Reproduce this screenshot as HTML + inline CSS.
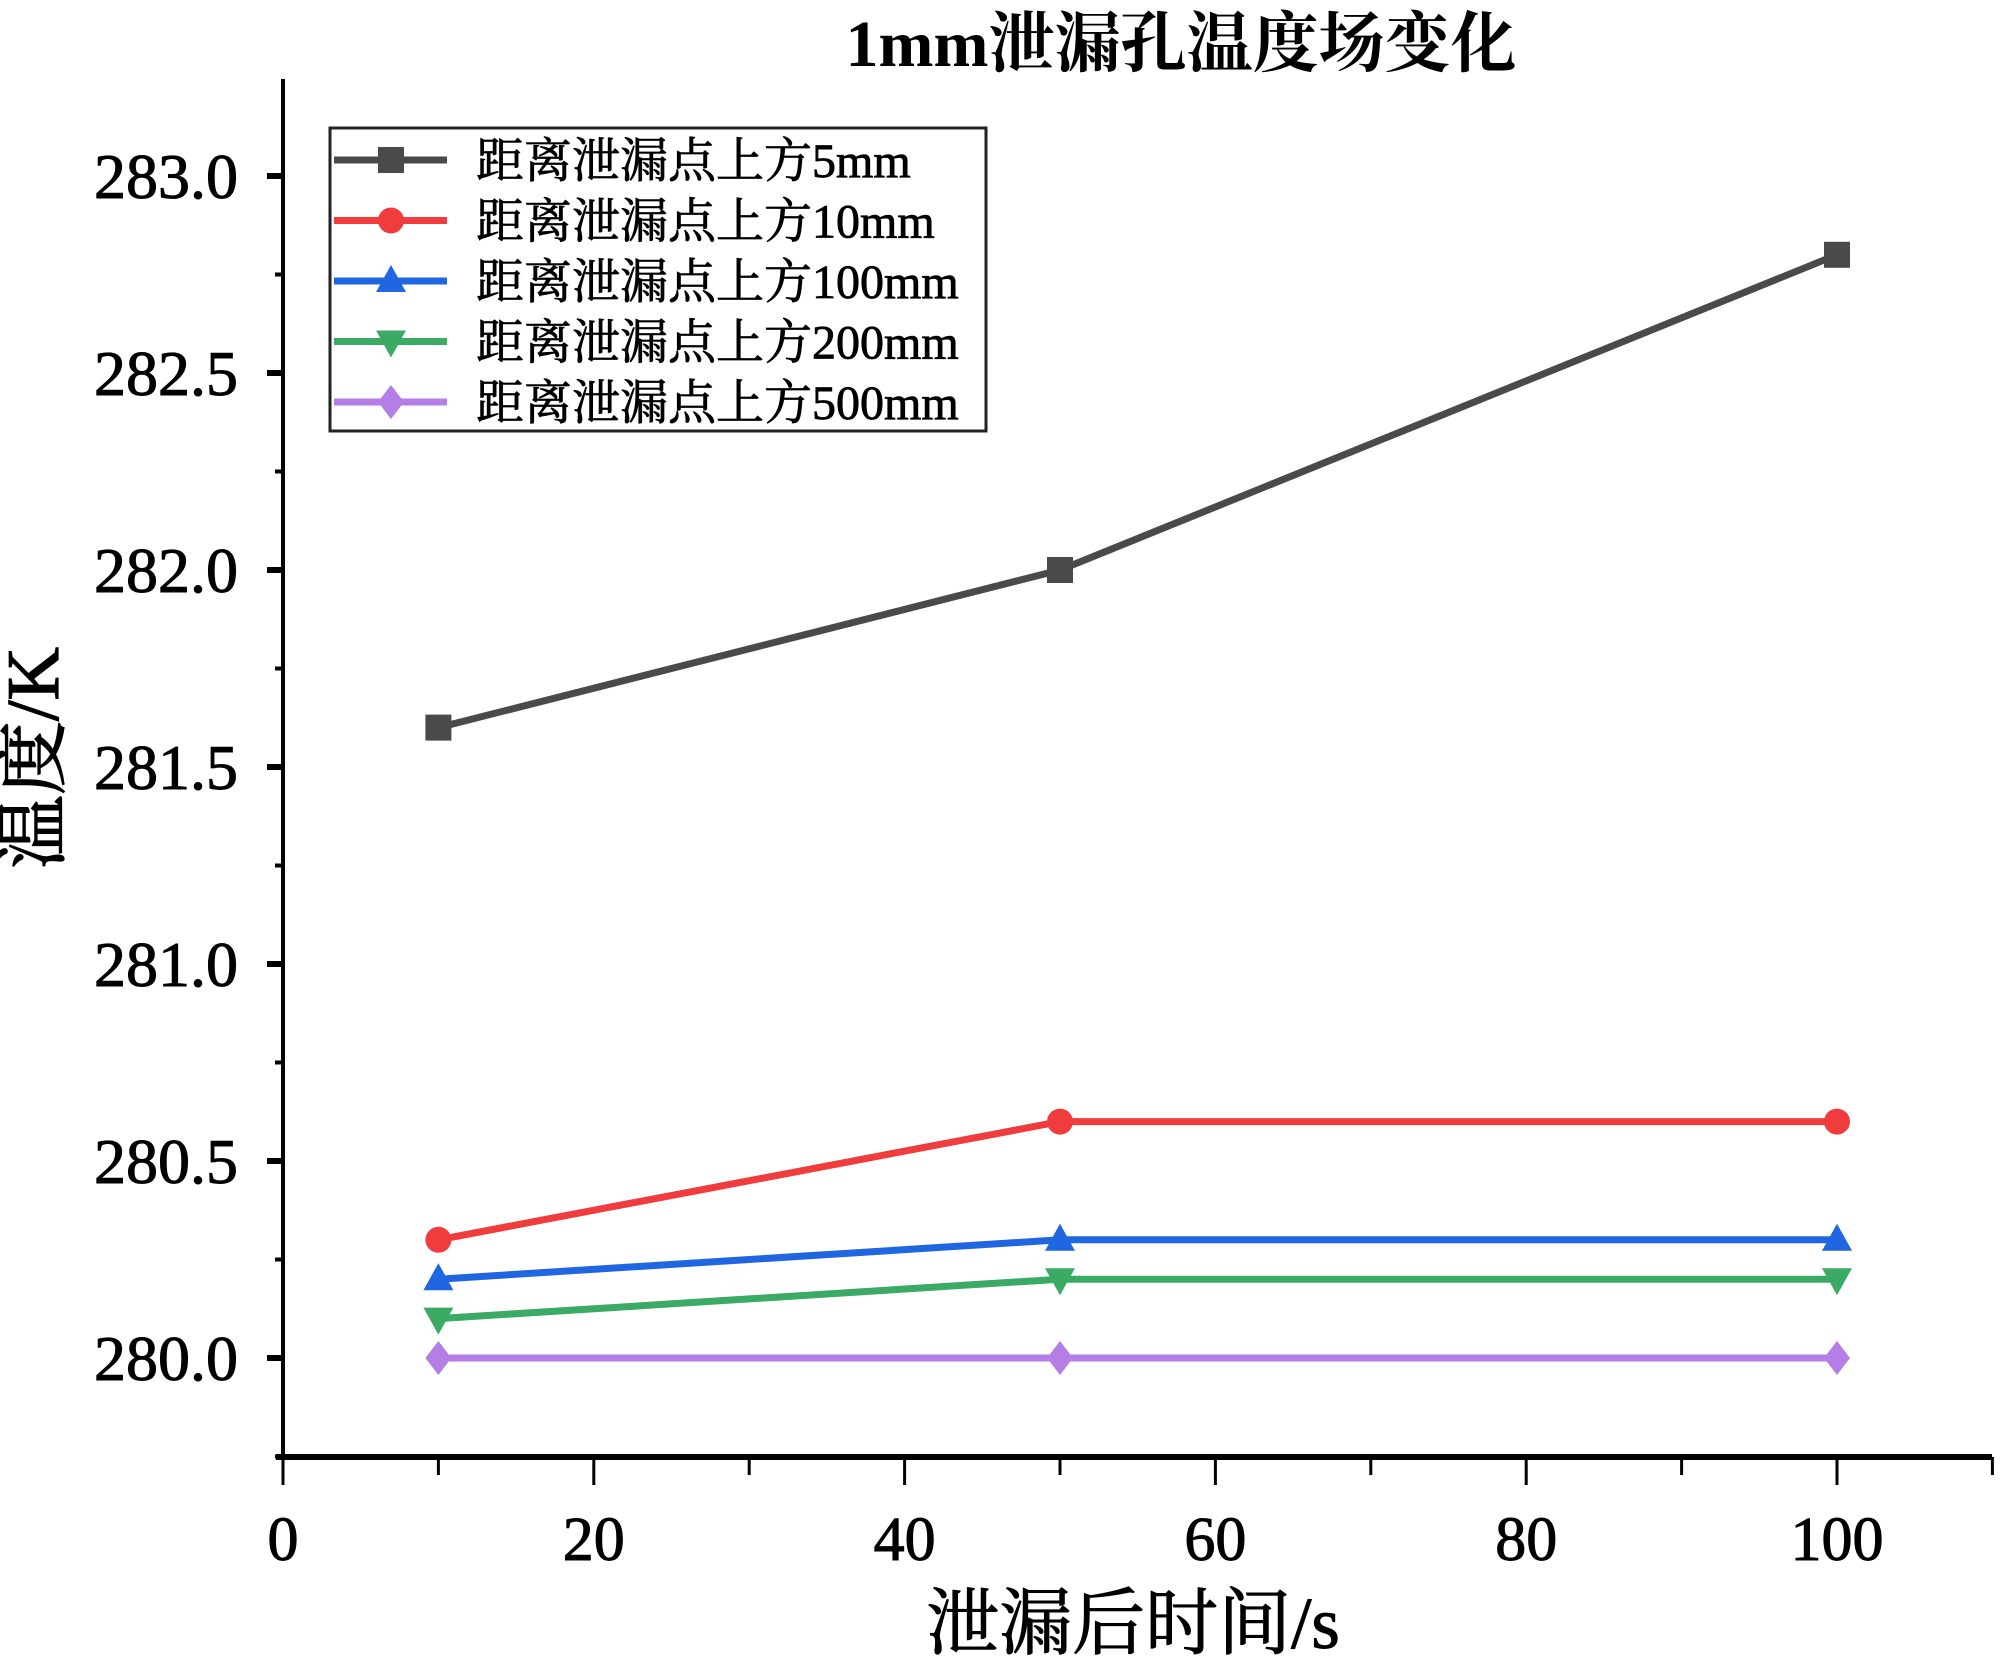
<!DOCTYPE html>
<html><head><meta charset="utf-8"><style>body{margin:0;background:#fff}svg{display:block}</style></head>
<body>
<svg id="chart" width="2000" height="1661" xmlns="http://www.w3.org/2000/svg" font-family="'Liberation Serif','Noto Serif CJK SC',serif">
<text x="1181" y="66" font-size="66" font-weight="bold" text-anchor="middle">1mm泄漏孔温度场变化</text>
<text x="1133" y="1648" font-size="73" text-anchor="middle" stroke="#000" stroke-width="1">泄漏后时间/s</text>
<text transform="translate(58,758) rotate(-90)" font-size="74" text-anchor="middle" stroke="#000" stroke-width="1.2">温度/K</text>
<g id="axes"></g><g id="series"></g><g id="legend"></g>
</svg>
<script>
const xVals=[10,50,100];
const s5=[281.6,282.0,282.8];
const s10=[280.3,280.6,280.6];
const s100=[280.2,280.3,280.3];
const s200=[280.1,280.2,280.2];
const s500=[280.0,280.0,280.0];
const seriesNames=['距离泄漏点上方5mm','距离泄漏点上方10mm','距离泄漏点上方100mm','距离泄漏点上方200mm','距离泄漏点上方500mm'];
const xTicks=[0,20,40,60,80,100];
const yTicks=[280.0,280.5,281.0,281.5,282.0,282.5,283.0];
const NS='http://www.w3.org/2000/svg';
const sx=v=>283+(v-0)*15.54;
const sy=v=>1358-(v-280)*394;
function mk(t,a,p){const e=document.createElementNS(NS,t);for(const k in a)e.setAttribute(k,a[k]);p.appendChild(e);return e;}
const ax=document.getElementById('axes');
let l=mk('line',{x1:283,y1:79,x2:283,y2:1460,stroke:'#000','stroke-width':4},ax);

l=mk('line',{x1:276,y1:1457,x2:1992,y2:1457,stroke:'#000','stroke-width':6},ax);

for(let v=0;v<=110;v+=10){const maj=v%20===0;const t=mk('line',{x1:sx(v),y1:1457,x2:sx(v),y2:1457+(maj?28:18),stroke:'#000','stroke-width':3},ax);}
xTicks.forEach(v=>{const t=mk('text',{x:sx(v),y:1560,'font-size':62,'text-anchor':'middle',stroke:'#000','stroke-width':1},ax);t.textContent=v;});
for(let v=279.75;v<=283.25;v+=0.25){const y=sy(v);if(y<79)continue;const maj=Math.abs(v*2-Math.round(v*2))<1e-6;const t=mk('line',{x1:283-(maj?16:8),y1:y,x2:283,y2:y,stroke:'#000','stroke-width':maj?6:4},ax);}
yTicks.forEach(v=>{const t=mk('text',{x:238,y:sy(v)+22,'font-size':64,'text-anchor':'end',stroke:'#000','stroke-width':1},ax);t.textContent=v.toFixed(1);});
const cols=['#4a4a4a','#f03c3c','#1f66e0','#3aaa64','#b57ee6'];
const shapes=['square','circle','up','down','diamond'];
const data=[s5,s10,s100,s200,s500];
function marker(g,shape,x,y,c){const r=13;let e;
if(shape==='square')e=mk('rect',{x:x-r,y:y-r,width:2*r,height:2*r,fill:c},g);
else if(shape==='circle')e=mk('circle',{cx:x,cy:y,r:r,fill:c},g);
else if(shape==='up')e=mk('polygon',{points:`${x},${y-r-3} ${x+r+2},${y+r-2} ${x-r-2},${y+r-2}`,fill:c},g);
else if(shape==='down')e=mk('polygon',{points:`${x},${y+r+3} ${x+r+2},${y-r+2} ${x-r-2},${y-r+2}`,fill:c},g);
else e=mk('polygon',{points:`${x},${y-r-4} ${x+r},${y} ${x},${y+r+4} ${x-r},${y}`,fill:c},g);
return e;}
const sg=document.getElementById('series');
data.forEach((arr,i)=>{const g=mk('g',{},sg);
const p=mk('polyline',{points:arr.map((v,j)=>sx(xVals[j])+','+sy(v)).join(' '),fill:'none',stroke:cols[i],'stroke-width':7},g);

arr.forEach((v,j)=>{const m=marker(g,shapes[i],sx(xVals[j]),sy(v),cols[i]);});});
const lg=document.getElementById('legend');
const box=mk('rect',{x:330,y:128,width:656,height:303,fill:'#fff',stroke:'#222','stroke-width':3},lg);

seriesNames.forEach((n,i)=>{const y=160+i*60.5;const g=mk('g',{},lg);
mk('line',{x1:334,y1:y,x2:447,y2:y,stroke:cols[i],'stroke-width':7},g);marker(g,shapes[i],391,y,cols[i]);
const t=mk('text',{x:476,y:y+17,'font-size':48,stroke:'#000','stroke-width':0.8},g);t.textContent=n;});
</script>
</body></html>
